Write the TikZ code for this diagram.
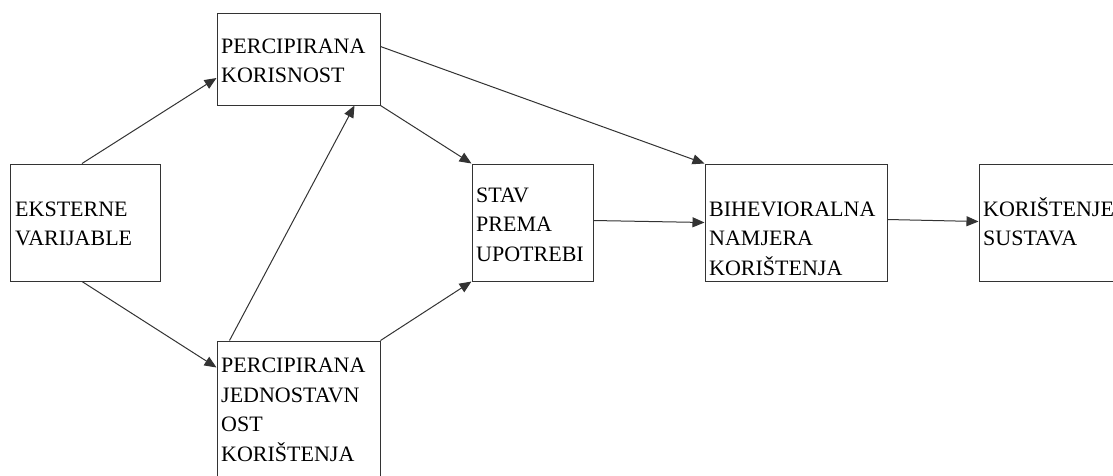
\documentclass[tikz,border=0pt]{standalone}
\usepackage{fontspec}
\setmainfont{Liberation Serif}
\usetikzlibrary{arrows.meta}
\begin{document}
\begin{tikzpicture}[x=1pt,y=-1pt,
  box/.style={draw=black!80,line width=1pt,rectangle,inner sep=0pt},
  label/.style={anchor=base west,inner sep=0pt,align=left,
    font=\fontsize{22}{29.5}\selectfont,text=black},
  link/.style={draw=black!80,line width=1pt,-{Triangle[length=12pt,width=10pt]}}]
\useasboundingbox (0,0) rectangle (1113,475);
\clip (0,0) rectangle (1113,475);

% boxes
\node[box,minimum width=150pt,minimum height=117pt] (eks)  at (85,222.5)   {};
\node[box,minimum width=163pt,minimum height=92pt]  (pk)   at (298.5,59)   {};
\node[box,minimum width=163pt,minimum height=178pt] (pj)   at (298.5,430)  {};
\node[box,minimum width=121pt,minimum height=117pt] (stav) at (532.5,222.5){};
\node[box,minimum width=182pt,minimum height=117pt] (bih)  at (796,222.5)  {};
\node[box,minimum width=160pt,minimum height=117pt] (kor)  at (1059,222.5) {};

% texts (placed by the baseline of their last line)
\node[label] (eks-t)  at (15,245.5)  {EKSTERNE\\VARIJABLE};
\node[label] (pk-t)   at (221,82.5)  {PERCIPIRANA\\KORISNOST};
\node[label] (pj-t)   at (221,461)   {PERCIPIRANA\\JEDNOSTAVN\\OST\\KORIŠTENJA};
\node[label] (stav-t) at (476,261)   {STAV\\PREMA\\UPOTREBI};
\node[label] (bih-t)  at (709,275)   {BIHEVIORALNA\\NAMJERA\\KORIŠTENJA};
\node[label] (kor-t)  at (983,245.5) {KORIŠTENJE\\SUSTAVA};

% connectors
\draw[link] ([xshift=-3pt]eks.north) -- ([yshift=-19pt]pk.west);
\draw[link] ([xshift=-3pt]eks.south) -- ([yshift=-27pt]pj.north west);
\draw[link] ([xshift=13pt]pj.north west) -- ([xshift=138pt]pk.south west);
\draw[link] (pk.south east) -- (stav.north west);
\draw[link] (pj.north east) -- (stav.south west);
\draw[link] ([yshift=-34pt]pk.north east) -- (bih.north west);
\draw[link] ([yshift=2pt]stav.east) -- (bih.west);
\draw[link] ([yshift=3pt]bih.east) -- ([yshift=1pt]kor.west);
\end{tikzpicture}
\end{document}
